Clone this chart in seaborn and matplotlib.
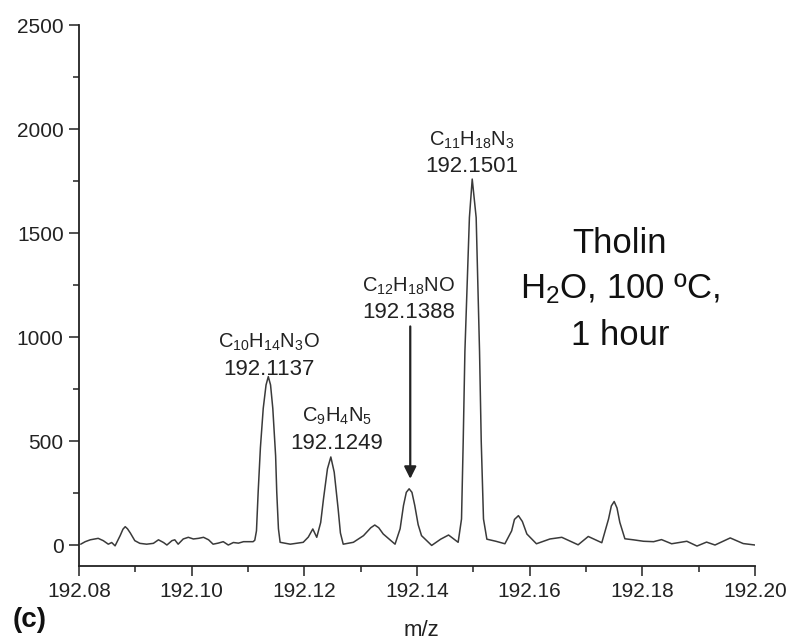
import matplotlib
matplotlib.use("Agg")
import matplotlib.pyplot as plt
import seaborn as sns
import pandas as pd
from matplotlib.ticker import MultipleLocator, FormatStrFormatter

# spectrum trace (m/z, intensity)
mz = [192.0803, 192.0811, 192.0820, 192.0834, 192.0843, 192.0852, 192.0858, 192.0864,
      192.0873, 192.0878, 192.0882, 192.0886, 192.0891, 192.0899, 192.0908, 192.0920,
      192.0932, 192.0941, 192.0950, 192.0956, 192.0965, 192.0970, 192.0976, 192.0985,
      192.0994, 192.1003, 192.1012, 192.1021, 192.1030, 192.1038, 192.1047, 192.1056,
      192.1065, 192.1074, 192.1083, 192.1092, 192.1109,
      192.1112, 192.1115, 192.1118, 192.1122, 192.1127, 192.1132, 192.1136, 192.1140,
      192.1144, 192.1149, 192.1151, 192.1154, 192.1157, 192.1175, 192.1198, 192.1207,
      192.1215, 192.1222, 192.1229, 192.1234, 192.1241, 192.1247, 192.1253, 192.1260,
      192.1264, 192.1269, 192.1287, 192.1305, 192.1318, 192.1325, 192.1332, 192.1340,
      192.1361, 192.1370, 192.1376, 192.1381, 192.1386, 192.1391, 192.1396, 192.1402,
      192.1408, 192.1426, 192.1442, 192.1456, 192.1473,
      192.1479, 192.1482, 192.1485, 192.1493, 192.1498, 192.1505, 192.1511, 192.1514,
      192.1518, 192.1524, 192.1540, 192.1556, 192.1568, 192.1573, 192.1580, 192.1587,
      192.1595, 192.1612, 192.1636, 192.1657, 192.1686, 192.1704, 192.1728, 192.1740,
      192.1745, 192.1750, 192.1755, 192.1760, 192.1769,
      192.1784, 192.1802, 192.1820, 192.1834, 192.1852, 192.1879, 192.1897,
      192.1914, 192.1929, 192.1956, 192.1979, 192.2000]
intensity = [6, 18, 27, 34, 23, 6, 14, -2,
             47, 78, 90, 80, 60, 23, 10, 6,
             10, 27, 14, 2, 23, 27, 6, 31,
             39, 31, 34, 39, 27, 6, 11, 18,
             2, 14, 11, 18, 18,
             25, 70, 256, 470, 658, 771, 811, 771,
             658, 430, 256, 80, 15, 6, 15, 40,
             79, 39, 110, 224, 368, 425, 352, 175,
             60, 6, 15, 47, 85, 98, 85, 55,
             6, 80, 192, 255, 272, 255, 192, 100,
             47, 0, 30, 50, 15,
             127, 500, 931, 1575, 1760, 1575, 931, 500,
             127, 30, 20, 8, 70, 125, 143, 115,
             55, 8, 31, 39, 3, 43, 13, 127,
             190, 211, 180, 111, 32,
             27, 20, 18, 28, 8, 20, -3,
             16, 2, 36, 9, 2]

# peak labels
peak_formulas = [r"C$_{10}$H$_{14}$N$_3$O", r"C$_9$H$_4$N$_5$",
                 r"C$_{12}$H$_{18}$NO", r"C$_{11}$H$_{18}$N$_3$"]
peak_masses = ["192.1137", "192.1249", "192.1388", "192.1501"]
label_x = [192.1137, 192.1258, 192.1385, 192.1498]
formula_y = [951, 594, 1221, 1921]
mass_y = [819, 465, 1092, 1792]

sample_lines = ["Tholin", r"H$_2$O, 100 ºC,", "1 hour"]

sns.set_style("ticks")
plt.rcParams["font.family"] = ["Liberation Sans", "DejaVu Sans"]
plt.rcParams["mathtext.fontset"] = "custom"
plt.rcParams["mathtext.rm"] = "Liberation Sans"
plt.rcParams["mathtext.it"] = "Liberation Sans:italic"
plt.rcParams["mathtext.bf"] = "Liberation Sans:bold"

df = pd.DataFrame({"mz": mz, "intensity": intensity})

fig = plt.figure(figsize=(7.91, 6.42), dpi=100)
ax = fig.add_axes([0.0999, 0.118, 0.8546, 0.843])

sns.lineplot(data=df, x="mz", y="intensity", ax=ax, color="#3a3a3a",
             linewidth=1.1, estimator=None, sort=False)

ax.set_xlim(192.08, 192.20)
ax.set_ylim(-100, 2500)
ax.xaxis.set_major_locator(MultipleLocator(0.02))
ax.xaxis.set_minor_locator(MultipleLocator(0.01))
ax.yaxis.set_major_locator(MultipleLocator(500))
ax.yaxis.set_minor_locator(MultipleLocator(250))
ax.xaxis.set_major_formatter(FormatStrFormatter("%.2f"))
ax.tick_params(which="major", length=7, width=1.1, labelsize=15, color="#222222",
               labelcolor="#222222", pad=4)
ax.tick_params(which="minor", length=4.5, width=1.1, color="#222222")
ax.set_xlabel("")
ax.set_ylabel("")
sns.despine(ax=ax)
for s in ["left", "bottom"]:
    ax.spines[s].set_linewidth(1.3)
    ax.spines[s].set_color("#222222")

for i in range(len(peak_formulas)):
    ax.text(label_x[i], formula_y[i], peak_formulas[i], ha="center", va="baseline",
            fontsize=14.5, color="#222222")
    ax.text(label_x[i], mass_y[i], peak_masses[i], ha="center", va="baseline",
            fontsize=16, color="#222222")

ax.annotate("", xy=(192.1388, 320), xytext=(192.1388, 1052),
            arrowprops=dict(arrowstyle="-|>", color="#222222", lw=1.6,
                            mutation_scale=18, shrinkA=0, shrinkB=0))

for line, yv in zip(sample_lines, [1404, 1187, 965]):
    ax.text(192.1760, yv, line, ha="center", va="baseline", fontsize=25,
            color="#111111")

fig.text(421 / 791, 1 - 630 / 642, "m/z", ha="center", va="center", fontsize=16,
         color="#222222")
fig.text(13 / 791, 1 - 620 / 642, "(c)", ha="left", va="center", fontsize=20,
         fontweight="bold", color="#111111")

fig.savefig("out.png", dpi=100)
